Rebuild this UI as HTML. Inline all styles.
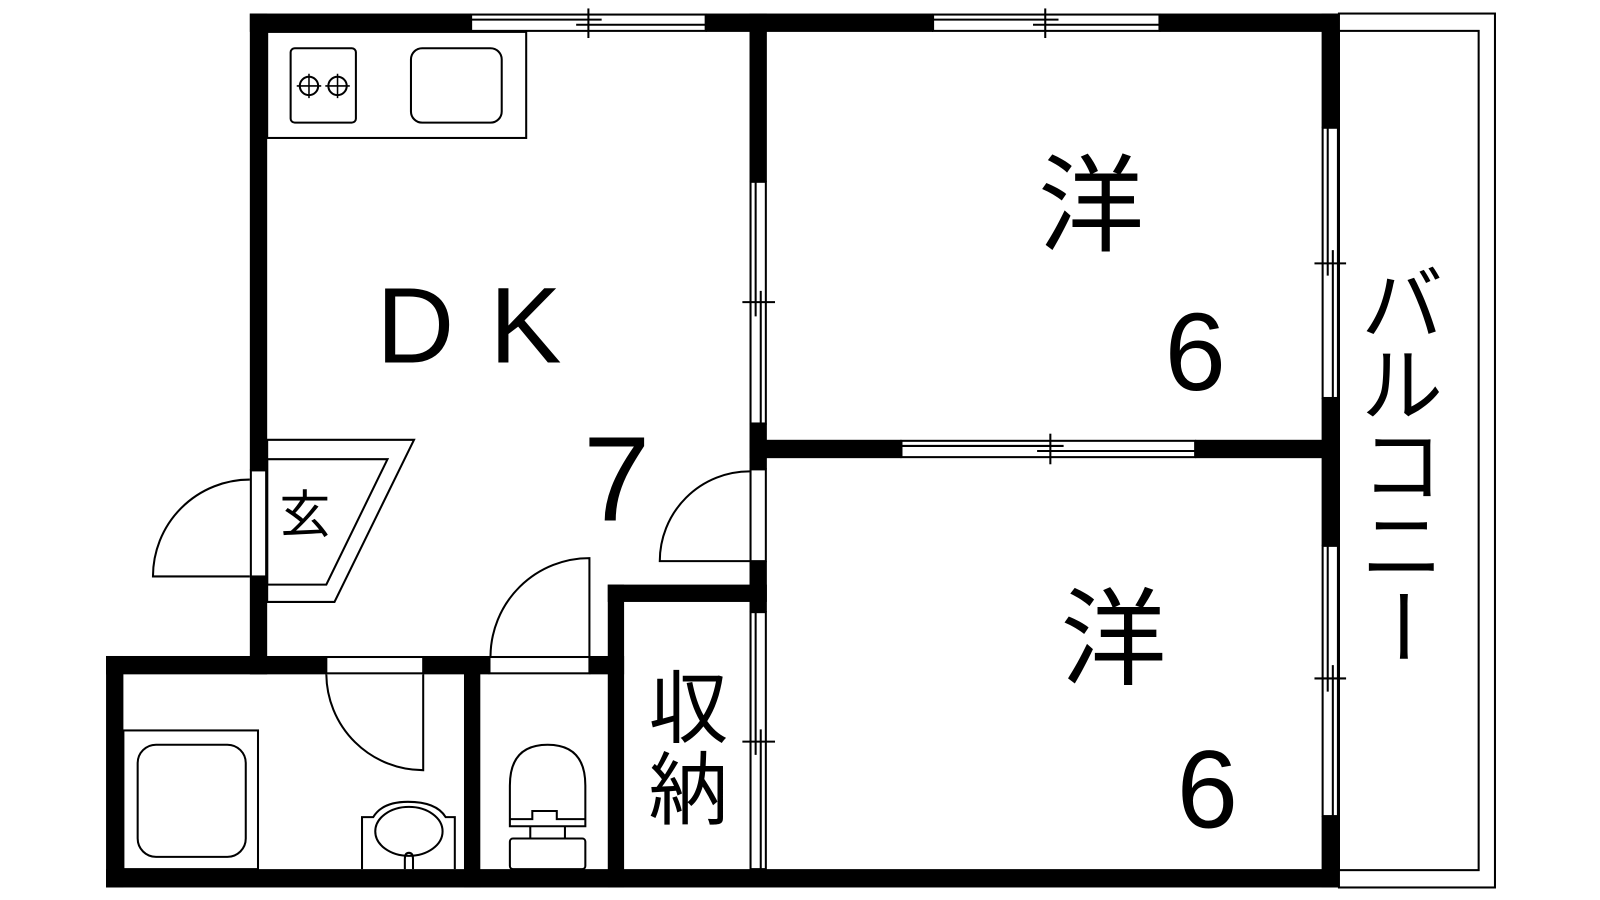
<!DOCTYPE html>
<html><head><meta charset="utf-8"><style>
html,body{margin:0;padding:0;background:#fff;}
svg{display:block;}
text{font-family:"Liberation Sans","Noto Sans CJK JP",sans-serif;fill:#000;}
</style></head><body>
<svg width="1600" height="900" viewBox="0 0 1569 882" xmlns="http://www.w3.org/2000/svg">
<rect width="1569" height="882" fill="#fff"/>
<g fill="#000">
<!-- top wall -->
<rect x="245" y="13" width="217" height="18"/>
<rect x="692" y="13" width="223" height="18"/>
<rect x="1137" y="13" width="176" height="18"/>
<!-- left wall -->
<rect x="245" y="13" width="17" height="448"/>
<rect x="245" y="565" width="17" height="96"/>
<!-- bath block -->
<rect x="104" y="643" width="17" height="227"/>
<rect x="104" y="852" width="1209" height="18"/>
<rect x="104" y="643" width="216" height="18"/>
<rect x="415" y="643" width="65" height="18"/>
<rect x="578" y="643" width="34" height="18"/>
<rect x="455" y="643" width="16" height="227"/>
<!-- storage -->
<rect x="596" y="573" width="16" height="297"/>
<rect x="596" y="573" width="156" height="17"/>
<!-- DK/room wall -->
<rect x="735" y="13" width="17" height="165"/>
<rect x="735" y="415" width="17" height="45"/>
<rect x="735" y="550" width="17" height="50"/>
<!-- middle wall -->
<rect x="735" y="431" width="149" height="18"/>
<rect x="1172" y="431" width="141" height="18"/>
<!-- right wall -->
<rect x="1296" y="13" width="17" height="112"/>
<rect x="1296" y="390" width="17" height="145"/>
<rect x="1296" y="800" width="17" height="70"/>
</g>
<g fill="none" stroke="#000" stroke-width="2">
<!-- top windows -->
<rect x="462" y="14" width="230" height="16"/>
<line x1="462" y1="19" x2="590" y2="19"/><line x1="565" y1="24" x2="692" y2="24"/>
<line x1="577" y1="8" x2="577" y2="37"/>
<rect x="915" y="14" width="222" height="16"/>
<line x1="915" y1="19" x2="1038" y2="19"/><line x1="1013" y1="24" x2="1137" y2="24"/>
<line x1="1025" y1="8" x2="1025" y2="37"/>
<!-- DK vertical windows -->
<rect x="736" y="178" width="15" height="237"/>
<line x1="741" y1="178" x2="741" y2="310"/><line x1="746" y1="285" x2="746" y2="415"/>
<line x1="728" y1="296" x2="760" y2="296"/>
<rect x="736" y="460" width="15" height="90"/>
<rect x="736" y="600" width="15" height="252"/>
<line x1="741" y1="600" x2="741" y2="740"/><line x1="746" y1="715" x2="746" y2="852"/>
<line x1="728" y1="727" x2="760" y2="727"/>
<!-- middle window -->
<rect x="884" y="432" width="288" height="16"/>
<line x1="884" y1="437" x2="1043" y2="437"/><line x1="1017" y1="442" x2="1172" y2="442"/>
<line x1="1030" y1="425" x2="1030" y2="455"/>
<!-- right windows -->
<rect x="1297" y="125" width="15" height="265"/>
<line x1="1302" y1="125" x2="1302" y2="270"/><line x1="1307" y1="245" x2="1307" y2="390"/>
<line x1="1289" y1="258" x2="1320" y2="258"/>
<rect x="1297" y="535" width="15" height="265"/>
<line x1="1302" y1="535" x2="1302" y2="678"/><line x1="1307" y1="652" x2="1307" y2="800"/>
<line x1="1289" y1="665" x2="1320" y2="665"/>
<!-- balcony -->
<rect x="1313" y="13" width="153" height="857"/>
<rect x="1313" y="30" width="137" height="823"/>
<!-- kitchen -->
<rect x="262" y="31" width="254" height="104"/>
<rect x="285" y="47" width="64" height="73" rx="4"/>
<rect x="403" y="47" width="89" height="73" rx="11"/>
<circle cx="303" cy="84" r="9"/><circle cx="331" cy="84" r="9"/>
<path d="M291 84h24M303 72v24M319 84h24M331 72v24" stroke-width="1.5"/>
<!-- genkan -->
<polygon points="262,431 406,431 328,590 262,590"/>
<polygon points="262,450 380,450 320,573 262,573"/>
<rect x="246" y="461" width="15" height="104"/>
<path d="M245 565H150A95 95 0 0 1 245 470"/>
<!-- DK to room door -->
<path d="M735 550H647A88 88 0 0 1 735 462"/>
<!-- toilet door -->
<rect x="480" y="644" width="98" height="16"/>
<path d="M578 643V547A97 97 0 0 0 481 643"/>
<!-- bath door -->
<rect x="320" y="644" width="95" height="16"/>
<path d="M415 661V755A95 95 0 0 1 320 661"/>
<!-- tub -->
<rect x="121" y="716" width="132" height="136"/>
<rect x="135" y="730" width="106" height="110" rx="18"/>
<!-- basin -->
<path d="M355 852V801H366Q375 786 400 786Q428 786 437 801H446V852"/>
<ellipse cx="401" cy="815" rx="33" ry="24"/>
<path d="M397 852V842Q397 836 401 836Q405 836 405 842V852"/>
<!-- toilet -->
<path d="M500 810V770Q500 730 537 730Q574 730 574 770V810Z"/>
<path d="M500 803H522V795H546V803H574"/>
<rect x="500" y="822" width="74" height="30" rx="3"/>
<line x1="520" y1="810" x2="520" y2="822"/><line x1="554" y1="810" x2="554" y2="822"/>
</g>
<!-- texts -->
<text x="369" y="355" font-size="106">D</text>
<text x="480" y="355" font-size="106">K</text>
<text x="572" y="510" font-size="118">7</text>
<text x="1018" y="238" font-size="104" font-family="Noto Sans CJK JP, sans-serif">洋</text>
<text x="1142" y="382" font-size="108">6</text>
<text x="1040" y="663" font-size="104" font-family="Noto Sans CJK JP, sans-serif">洋</text>
<text x="1154" y="811" font-size="108">6</text>
<text x="274" y="522" font-size="50" font-family="Noto Sans CJK JP, sans-serif">玄</text>
<text x="636" y="722" font-size="78" font-family="Noto Sans CJK JP, sans-serif">収</text>
<text x="636" y="802" font-size="78" font-family="Noto Sans CJK JP, sans-serif">納</text>
<g font-size="80" font-family="Noto Sans CJK JP, sans-serif">
<text x="1335" y="327">バ</text>
<text x="1335" y="406">ル</text>
<text x="1335" y="485">コ</text>
<text x="1335" y="564">ニ</text>
<text x="1335" y="643" transform="rotate(90 1375 614)">ー</text>
</g>
</svg>
</body></html>
